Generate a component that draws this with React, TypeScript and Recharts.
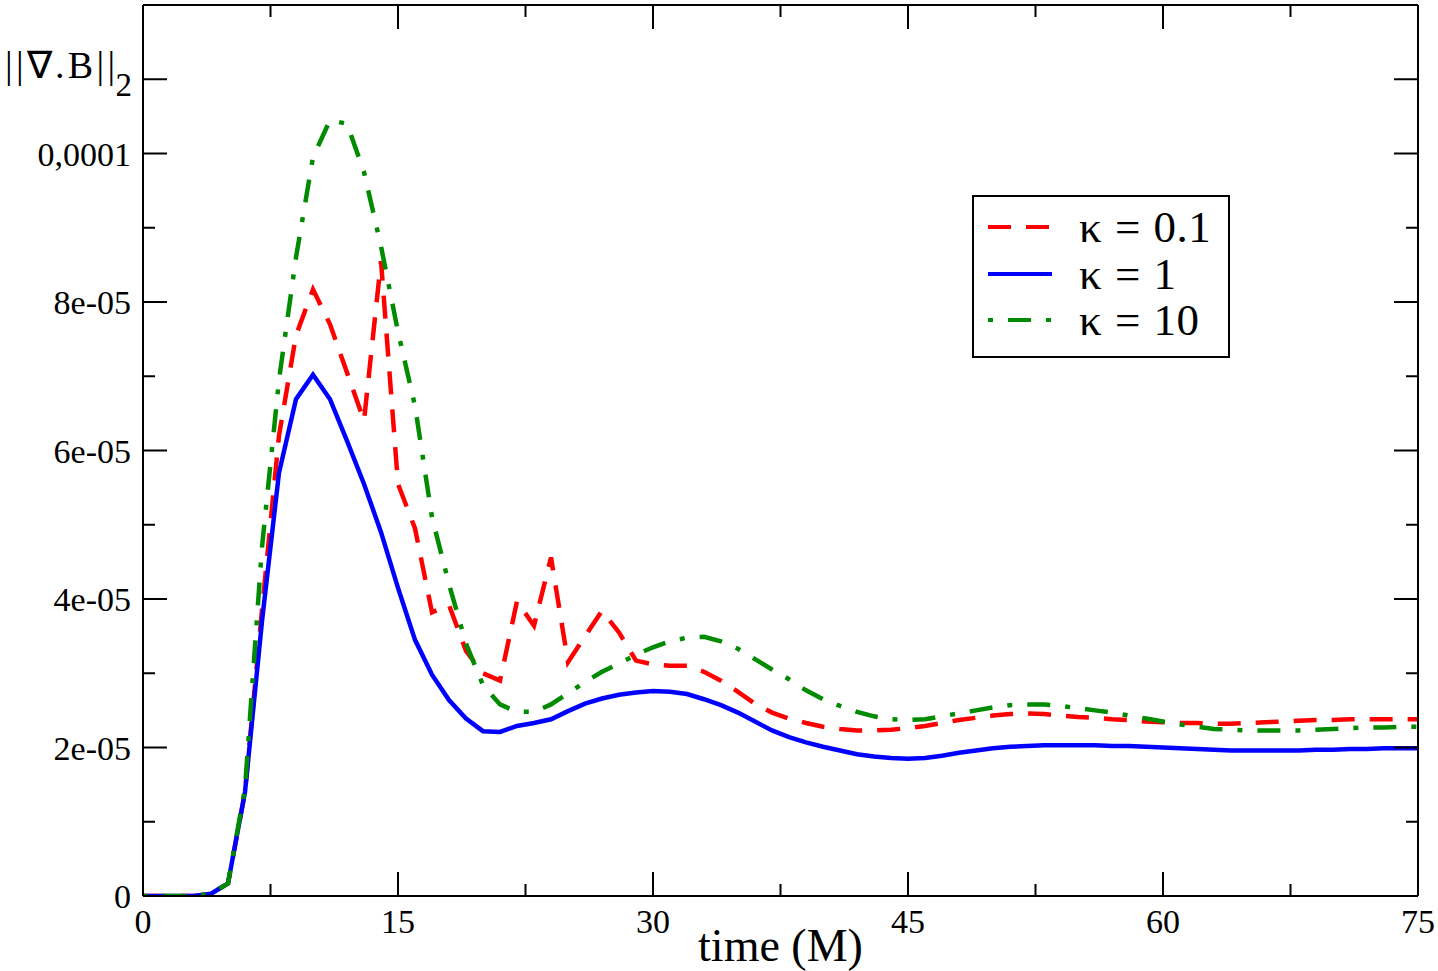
import React from 'react';
import { LineChart, Line, XAxis, YAxis, Legend } from 'recharts';

// Sampling times (M)
const TIMES = [
  0, 1, 2, 3, 4, 5, 6, 7, 8, 9,
  10, 11, 12, 13, 14, 15, 16, 17, 18, 19,
  20, 21, 22, 23, 24, 25, 26, 27, 28, 29,
  30, 31, 32, 33, 34, 35, 36, 37, 38, 39,
  40, 41, 42, 43, 44, 45, 46, 47, 48, 49,
  50, 51, 52, 53, 54, 55, 56, 57, 58, 59,
  60, 61, 62, 63, 64, 65, 66, 67, 68, 69,
  70, 71, 72, 73, 74, 75,
];

// ||div B||_2 in units of 1e-5
const UNIT = 1e-5;

const KAPPA_01 = [
  0, 0, 0, 0, 0.03, 0.17, 1.4, 3.85, 6.2, 7.55,
  8.17, 7.7, 7.05, 6.4, 8.55, 5.55, 4.95, 3.82, 3.92, 3.3,
  3.0, 2.9, 3.97, 3.64, 4.56, 3.15, 3.5, 3.84, 3.55, 3.17,
  3.12, 3.1, 3.1, 3.02, 2.9, 2.75, 2.59, 2.47, 2.39, 2.33,
  2.28, 2.25, 2.23, 2.23, 2.24, 2.26, 2.29, 2.33, 2.37, 2.4,
  2.43, 2.45, 2.46, 2.45, 2.43, 2.41, 2.4, 2.38, 2.37, 2.35,
  2.34, 2.33, 2.33, 2.32, 2.32, 2.33, 2.34, 2.35, 2.36, 2.37,
  2.37, 2.38, 2.38, 2.38, 2.38, 2.38,
];

const KAPPA_1 = [
  0, 0, 0, 0, 0.03, 0.17, 1.4, 3.7, 5.7, 6.69,
  7.02, 6.69, 6.13, 5.55, 4.9, 4.15, 3.45, 2.98, 2.64, 2.39,
  2.22, 2.21, 2.29, 2.33, 2.38, 2.49, 2.59, 2.66, 2.71, 2.74,
  2.76, 2.75, 2.72, 2.65, 2.57, 2.47, 2.35, 2.23, 2.14, 2.07,
  2.01, 1.96, 1.91, 1.88, 1.86, 1.85, 1.86, 1.89, 1.93, 1.96,
  1.99, 2.01, 2.02, 2.03, 2.03, 2.03, 2.03, 2.02, 2.02, 2.01,
  2.0, 1.99, 1.98, 1.97, 1.96, 1.96, 1.96, 1.96, 1.96, 1.97,
  1.97, 1.98, 1.98, 1.99, 1.99, 1.99,
];

const KAPPA_10 = [
  0, 0, 0, 0, 0.03, 0.17, 1.45, 4.7, 6.95, 8.6,
  9.95, 10.45, 10.4, 9.75, 8.75, 7.6, 6.6, 5.1, 4.2, 3.4,
  2.84, 2.58, 2.48, 2.48, 2.58, 2.73, 2.88, 3.02, 3.13, 3.25,
  3.35, 3.43, 3.48, 3.49, 3.43, 3.33, 3.19, 3.05, 2.92, 2.77,
  2.65, 2.56, 2.48, 2.42, 2.38, 2.37, 2.38, 2.42, 2.46, 2.5,
  2.54, 2.57, 2.58, 2.58, 2.56, 2.53, 2.5, 2.47, 2.43, 2.39,
  2.35, 2.31, 2.28, 2.25, 2.24, 2.23, 2.23, 2.23, 2.23, 2.24,
  2.25, 2.26, 2.27, 2.27, 2.28, 2.28,
];

const SERIES = [
  { key: 'k01', label: 'κ = 0.1', color: '#ff0000', dash: '23 15' as string | undefined },
  { key: 'k1', label: 'κ = 1', color: '#0000ff', dash: undefined as string | undefined },
  { key: 'k10', label: 'κ = 10', color: '#008b00', dash: '5 15 23 15' as string | undefined },
];

// Axis ticks
const X_MAJOR = [0, 15, 30, 45, 60, 75];
const X_TICKS = [0, 7.5, 15, 22.5, 30, 37.5, 45, 52.5, 60, 67.5, 75];
const Y_TICKS = [0, 1e-5, 2e-5, 3e-5, 4e-5, 5e-5, 6e-5, 7e-5, 8e-5, 9e-5, 1e-4, 1.1e-4, 1.2e-4];
const Y_TICK_LABELS = ['0', '', '2e-05', '', '4e-05', '', '6e-05', '', '8e-05', '', '0,0001', 'NAME', ''];
const Y_MAJOR_INDEX = [0, 2, 4, 6, 8, 10, 11, 12];

const data = TIMES.map((t, i) => ({
  t,
  k01: KAPPA_01[i] * UNIT,
  k1: KAPPA_1[i] * UNIT,
  k10: KAPPA_10[i] * UNIT,
}));

const SERIF = '"Liberation Serif", "Times New Roman", Times, serif';
const MAJOR_LEN = 24;
const MINOR_LEN = 12;
const TICK_FONT = 34;
const FRAME = { stroke: '#000', strokeWidth: 2 };

const yIndex = (v: number) => Y_TICKS.findIndex((w) => Math.abs(w - v) < 1e-12);

function BottomTick(props: any) {
  const { x, y, payload } = props;
  const v = payload.value;
  const major = X_MAJOR.includes(v);
  return (
    <g>
      <line x1={x} y1={y} x2={x} y2={y - (major ? MAJOR_LEN : MINOR_LEN)} stroke="#000" strokeWidth={2} />
      {major && (
        <text x={x} y={y + 37} textAnchor="middle" fontFamily={SERIF} fontSize={TICK_FONT} fill="#000">
          {v}
        </text>
      )}
    </g>
  );
}

function TopTick(props: any) {
  const { x, y, payload } = props;
  const major = X_MAJOR.includes(payload.value);
  return <line x1={x} y1={y} x2={x} y2={y + (major ? MAJOR_LEN : MINOR_LEN)} stroke="#000" strokeWidth={2} />;
}

function LeftTick(props: any) {
  const { x, y, payload } = props;
  const idx = yIndex(payload.value);
  const major = Y_MAJOR_INDEX.includes(idx);
  const label = Y_TICK_LABELS[idx] || '';
  return (
    <g>
      <line x1={x} y1={y} x2={x + (major ? MAJOR_LEN : MINOR_LEN)} y2={y} stroke="#000" strokeWidth={2} />
      {label === 'NAME' ? (
        <g fontFamily={SERIF} fill="#000">
          <text x={x - 138} y={y - 1} fontSize={38} textLength={110} lengthAdjust="spacing">
            ||∇.B||
          </text>
          <text x={x - 11} y={y + 17} textAnchor="end" fontSize={33}>
            2
          </text>
        </g>
      ) : label ? (
        <text x={x - 12} y={y + 12} textAnchor="end" fontFamily={SERIF} fontSize={TICK_FONT} fill="#000">
          {label}
        </text>
      ) : null}
    </g>
  );
}

function RightTick(props: any) {
  const { x, y, payload } = props;
  const idx = yIndex(payload.value);
  const major = Y_MAJOR_INDEX.includes(idx);
  return <line x1={x} y1={y} x2={x - (major ? MAJOR_LEN : MINOR_LEN)} y2={y} stroke="#000" strokeWidth={2} />;
}

function TimeLabel(props: any) {
  const vb = props.viewBox || {};
  return (
    <text x={vb.x + vb.width / 2} y={vb.y + 65} textAnchor="middle" fontFamily={SERIF} fontSize={46} fill="#000">
      time (M)
    </text>
  );
}

function LegendBox() {
  return (
    <div
      style={{
        border: '2px solid #000',
        background: '#fff',
        width: 254,
        height: 152,
        boxSizing: 'content-box',
        fontFamily: SERIF,
        fontSize: 45,
        color: '#000',
        paddingTop: 7,
      }}
    >
      {SERIES.map((s) => (
        <div key={s.key} style={{ display: 'flex', alignItems: 'center', height: 46.5 }}>
          <svg width={105} height={20} style={{ flex: 'none' }}>
            <line x1={14} x2={78} y1={10} y2={10} stroke={s.color} strokeWidth={4} strokeDasharray={s.dash} />
          </svg>
          <span
            style={{
              display: 'inline-block',
              height: 40,
              lineHeight: '40px',
              overflow: 'visible',
              whiteSpace: 'pre',
              wordSpacing: 1,
              letterSpacing: 0.5,
            }}
          >
            {s.label}
          </span>
        </div>
      ))}
    </div>
  );
}

export default function App() {
  return (
    <div style={{ position: 'absolute', left: 0, top: 0, background: '#fff' }}>
      <LineChart width={1438} height={971} data={data} margin={{ top: 4, right: 19, bottom: 74, left: 142 }}>
        <XAxis
          xAxisId="bottom"
          dataKey="t"
          type="number"
          domain={[0, 75]}
          allowDataOverflow
          ticks={X_TICKS}
          interval={0}
          height={1}
          tickSize={0}
          tickMargin={0}
          tickLine={false}
          tick={<BottomTick />}
          axisLine={FRAME}
          label={<TimeLabel />}
        />
        <XAxis
          xAxisId="top"
          orientation="top"
          type="number"
          domain={[0, 75]}
          allowDataOverflow
          ticks={X_TICKS}
          interval={0}
          height={1}
          tickSize={0}
          tickMargin={0}
          tickLine={false}
          tick={<TopTick />}
          axisLine={FRAME}
        />
        <YAxis
          yAxisId="left"
          type="number"
          domain={[0, 1.2e-4]}
          allowDataOverflow
          ticks={Y_TICKS}
          interval={0}
          width={1}
          tickSize={0}
          tickMargin={0}
          tickLine={false}
          tick={<LeftTick />}
          axisLine={FRAME}
        />
        <YAxis
          yAxisId="right"
          orientation="right"
          type="number"
          domain={[0, 1.2e-4]}
          allowDataOverflow
          ticks={Y_TICKS}
          interval={0}
          width={1}
          tickSize={0}
          tickMargin={0}
          tickLine={false}
          tick={<RightTick />}
          axisLine={FRAME}
        />
        {SERIES.map((s) => (
          <Line
            key={s.key}
            xAxisId="bottom"
            yAxisId="left"
            type="linear"
            dataKey={s.key}
            name={s.label}
            stroke={s.color}
            strokeWidth={4.5}
            strokeDasharray={s.dash}
            dot={false}
            activeDot={false}
            isAnimationActive={false}
          />
        ))}
        <Legend
          layout="horizontal"
          verticalAlign="middle"
          align="center"
          content={<LegendBox />}
          wrapperStyle={{ left: 972, top: 195, width: 'auto', height: 'auto' }}
        />
      </LineChart>
    </div>
  );
}
